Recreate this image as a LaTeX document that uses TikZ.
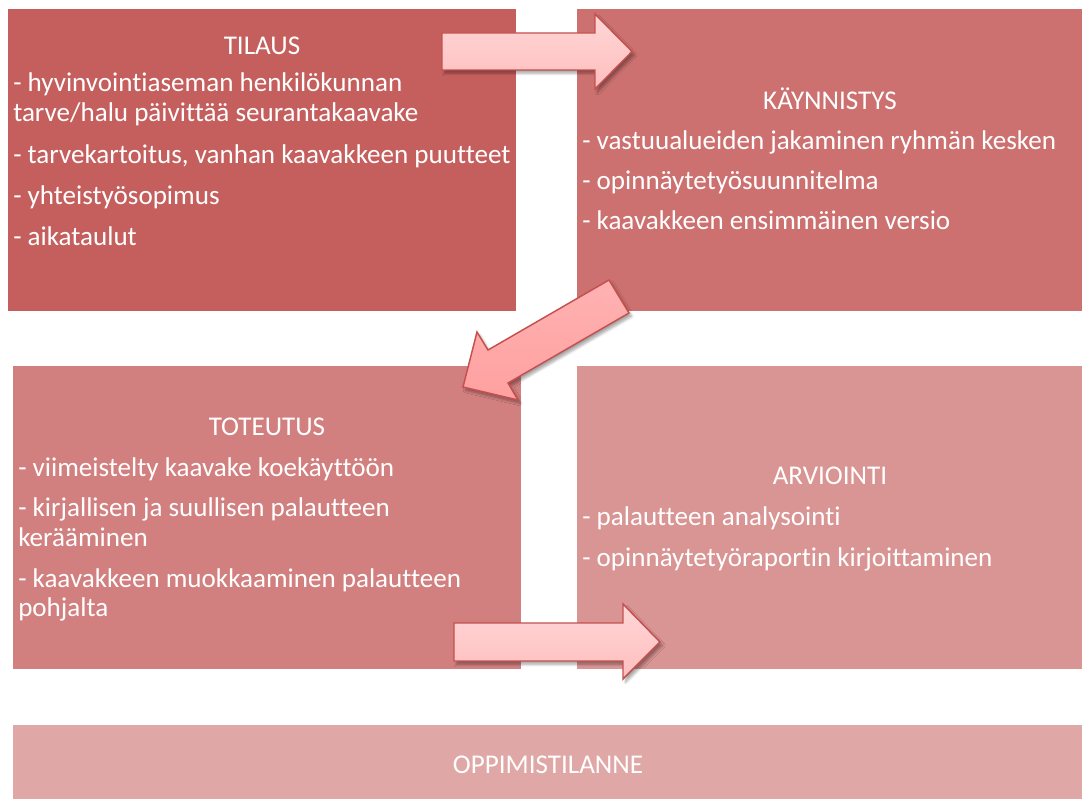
\documentclass[tikz,border=0pt]{standalone}
\usepackage{fontspec}
\setmainfont{Carlito}[Ligatures=NoCommon]
\usetikzlibrary{shadows.blur}
\definecolor{cTil}{HTML}{C55F5E}
\definecolor{cKay}{HTML}{CC7170}
\definecolor{cTot}{HTML}{D27F7F}
\definecolor{cArv}{HTML}{D99594}
\definecolor{cOpp}{HTML}{DFA7A6}
\definecolor{arrLine}{HTML}{C4504F}
\definecolor{arrTop}{HTML}{FFD6D6}
\definecolor{arrBot}{HTML}{FFBEBE}
\definecolor{diagA}{HTML}{FFB2B2}
\definecolor{diagB}{HTML}{FFA0A0}
\begin{document}
\begin{tikzpicture}[x=0.75pt,y=-0.75pt,
  stagebox/.style={anchor=north west, inner sep=0pt, draw=none},
  txt/.style={anchor=base west, inner sep=0pt, text=white, font=\fontsize{20.3}{24}\selectfont},
  ttl/.style={anchor=base, inner sep=0pt, text=white, font=\fontsize{20.3}{24}\selectfont},
  blockarrow/.style={draw=arrLine, line width=1.1pt, line join=miter,
    blur shadow={shadow xshift=2pt, shadow yshift=-2.5pt, shadow blur steps=6, shadow opacity=35}},
  harrow/.style={blockarrow, top color=arrTop, bottom color=arrBot},
  darrow/.style={blockarrow, top color=diagA, bottom color=diagB}]
\useasboundingbox (0,0) rectangle (1082,799);

% stage boxes
\node[stagebox, fill=cTil, minimum width=381pt, minimum height=226.5pt] (tilaus) at (8,9) {};
\node[stagebox, fill=cKay, minimum width=378.75pt, minimum height=226.5pt] (kaynnistys) at (577,9) {};
\node[stagebox, fill=cTot, minimum width=381pt, minimum height=227.25pt] (toteutus) at (13,366) {};
\node[stagebox, fill=cArv, minimum width=378.75pt, minimum height=227.25pt] (arviointi) at (577,366) {};
\node[stagebox, fill=cOpp, minimum width=801.75pt, minimum height=55.5pt] (oppi) at (13,725) {};

% TILAUS texts
\node[ttl] (t0) at (262,55) {TILAUS};
\node[txt] (t1) at (13,92) {- hyvinvointiaseman henkilökunnan};
\node[txt] (t1b) at (13,122) {tarve/halu päivittää seurantakaavake};
\node[txt] (t2) at (13,163) {- tarvekartoitus, vanhan kaavakkeen puutteet};
\node[txt] (t3) at (13,204) {- yhteistyösopimus};
\node[txt] (t4) at (13,245) {- aikataulut};

% KÄYNNISTYS texts
\node[ttl] (k0) at (830,109) {KÄYNNISTYS};
\node[txt] (k1) at (582,149.5) {- vastuualueiden jakaminen ryhmän kesken};
\node[txt] (k2) at (582,189.5) {- opinnäytetyösuunnitelma};
\node[txt] (k3) at (582,229.5) {- kaavakkeen ensimmäinen versio};

% TOTEUTUS texts
\node[ttl] (o0) at (267,435) {TOTEUTUS};
\node[txt] (o1) at (18,476) {- viimeistelty kaavake koekäyttöön};
\node[txt] (o2) at (18,516) {- kirjallisen ja suullisen palautteen};
\node[txt] (o2b) at (18,546) {kerääminen};
\node[txt] (o3) at (18,587) {- kaavakkeen muokkaaminen palautteen};
\node[txt] (o3b) at (18,616) {pohjalta};

% ARVIOINTI texts
\node[ttl] (a0) at (830,484) {ARVIOINTI};
\node[txt] (a1) at (582,525.5) {- palautteen analysointi};
\node[txt] (a2) at (582,566.5) {- opinnäytetyöraportin kirjoittaminen};

% OPPIMISTILANNE
\node[ttl] (p0) at (548,773) {OPPIMISTILANNE};

% block arrows
\draw[harrow] (442,33) -- (595,33) -- (595,14) -- (632,51.5) -- (595,89) -- (595,70) -- (442,70) -- cycle;
\draw[darrow] (609,280) -- (488,350) -- (477,332) -- (463,387) -- (518,400) -- (508,383) -- (629,313) -- cycle;
\draw[harrow] (454,623) -- (623,623) -- (623,604) -- (660,642) -- (623,679) -- (623,661) -- (454,661) -- cycle;
\end{tikzpicture}
\end{document}
